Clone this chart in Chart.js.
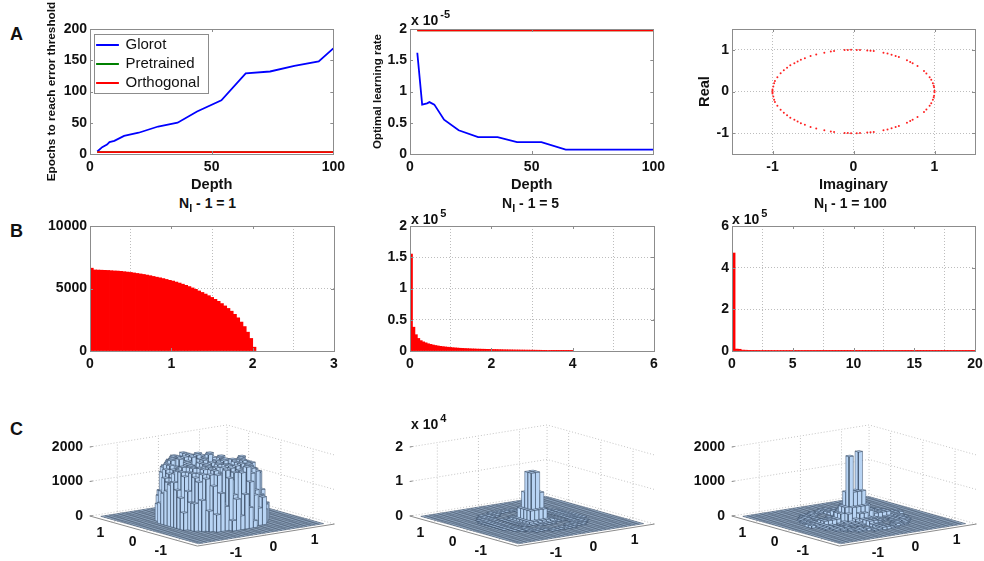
<!DOCTYPE html>
<html><head><meta charset="utf-8">
<script src="https://cdn.jsdelivr.net/npm/chart.js@4"></script>
<style>
html,body{margin:0;padding:0;background:#fff;width:984px;height:561px;overflow:hidden}
canvas{position:absolute}
.t{position:absolute;font-family:"Liberation Sans",Arial,sans-serif;color:#111;white-space:nowrap;line-height:1;font-weight:bold}
.t sup{font-size:11px;position:relative;top:-7px;vertical-align:baseline;margin-left:2px}
.t sub{font-size:11px;position:relative;top:4px;vertical-align:baseline}
</style></head><body>
<script>
// ---------- Row A ----------
const depth=[3,5,7,8,10,14,20,28,36,44,54,64,74,84,94,100];
const epochsGlorot=[4,11,15,19,21,29,34,44,50,68,86,129,132,141,148,169];
const epochsPretrained=[3,3,3,3,3,3,3,3,3,3,3,3,3,3,3,3];
const epochsOrthogonal=[3,3,3,3,3,3,3,3,3,3,3,3,3,3,3,3];
const lrGlorot=[1.62,.79,.81,.83,.79,.55,.38,.27,.27,.19,.19,.07,.07,.07,.07,.07];
const lrPretrained=[1.98,1.98,1.98,1.98,1.98,1.98,1.98,1.98,1.98,1.98,1.98,1.98,1.98,1.98,1.98,1.98];
const lrOrthogonal=[1.98,1.98,1.98,1.98,1.98,1.98,1.98,1.98,1.98,1.98,1.98,1.98,1.98,1.98,1.98,1.98];
const seriesNames=['Glorot','Pretrained','Orthogonal'];
const eigImag=[1,.995,.99,.98,.96,.94,.9,.87,.79,.73,.7,.66,.56,.52,.47,.42,.37,.25,.21,.17,.08,.04,-.03,-.07,-.11,-.24,-.28,-.36,-.46,-.53,-.6,-.65,-.69,-.73,-.78,-.82,-.86,-.9,-.94,-.97,-.98,-.99,-1,-1];
const eigReal=[.02,.1,.14,.2,.28,.34,.43,.49,.61,.68,.71,.75,.83,.85,.88,.91,.93,.97,.98,.985,.997,.999,1,.998,.994,.97,.96,.93,.89,.85,.8,.76,.72,.68,.63,.57,.51,.44,.34,.25,.2,.12,.05,.02];
// ---------- Row B ----------
const hist1Bins=[.02,.06,.1,.14,.18,.22,.26,.3,.34,.38,.42,.46,.5,.54,.58,.62,.66,.7,.74,.78,.82,.86,.9,.94,.98,1.02,1.06,1.1,1.14,1.18,1.22,1.26,1.3,1.34,1.38,1.42,1.46,1.5,1.54,1.58,1.62,1.66,1.7,1.74,1.78,1.82,1.86,1.9,1.94,1.98,2.02];
const hist1Counts=[6620,6480,6470,6460,6450,6440,6420,6400,6390,6370,6340,6310,6280,6240,6200,6160,6120,6070,6020,5960,5900,5850,5790,5720,5650,5590,5510,5430,5340,5250,5150,5040,4930,4800,4680,4550,4420,4280,4130,3970,3790,3600,3400,3180,2930,2650,2310,1950,1500,1000,300];
const hist2Bins=[.03,.09,.15,.21,.27,.33,.39,.45,.51,.57,.63,.69,.75,.81,.87,.93,.99,1.05,1.11,1.17,1.23,1.29,1.35,1.41,1.47,1.53,1.59,1.65,1.71,1.77,1.83,1.89,1.95,2.01,2.07,2.13,2.19,2.25,2.31,2.37,2.43,2.49,2.55,2.61,2.67,2.73,2.79,2.85,2.91,2.97,3.03,3.09,3.15,3.21,3.27,3.33,3.39,3.45,3.51,3.57,3.63,3.69,3.75,3.81,3.87,3.93,3.99];
const hist2Counts=[155000,38000,26000,20000,16500,14500,13000,11500,10500,9500,8700,8000,7400,6900,6400,6000,5600,5200,4900,4600,4300,4100,3900,3700,3500,3300,3200,3000,2900,2800,2700,2600,2500,2400,2300,2200,2100,2000,1900,1800,1750,1700,1600,1550,1500,1450,1400,1350,1300,1250,1200,1150,1100,1050,1000,950,800,700,600,550,500,450,400,350,300,250,200];
const hist3Bins=[.125,.375,.625,.875,1.125,1.375,1.625,1.875,2.125,2.375,2.625,2.875,3.125,3.375,3.625,3.875,4.125,4.375,4.625,4.875,5.125,5.375,5.625,5.875,6.125,6.375,6.625,6.875,7.125,7.375,7.625,7.875,8.125,8.375,8.625,8.875,9.125,9.375,9.625,9.875,10.125,10.375,10.625,10.875,11.125,11.375,11.625,11.875,12.125,12.375,12.625,12.875,13.125,13.375,13.625,13.875,14.125,14.375,14.625,14.875,15.125,15.375,15.625,15.875,16.125,16.375,16.625,16.875,17.125,17.375,17.625,17.875,18.125,18.375,18.625,18.875,19.125,19.375,19.625,19.875];
const hist3Counts=[470000,9000,8000,4000,3500,3000,3000,2800,2800,2500,2500,2500,2500,2400,2400,2400,2300,2300,2300,2300,2200,2200,2200,2200,2100,2100,2100,2100,2000,2000,2000,2000,2000,2000,2000,2000,2000,2000,2000,2000,2000,2000,2000,2000,2000,2000,2000,2000,2000,2000,2000,2000,2000,2000,2000,2000,2000,2000,2000,2000,2000,2000,2000,2000,2000,2000,2000,2000,2000,2000,2000,2000,2000,2000,2000,2000,2000,2000,2000,2000];
// ---------- Row C: bar heights, central 22 x 22 bins of a 30 x 30 histogram; each character indexes the panel's level table ----------
const levelsC1=[0,100,200,300,400,500,600,700,800,900,1000,1100,1200,1300,1400,1500,1600,1700];
const rowsC1=[
"0000000000000000000000",
"000000007fghg600000000",
"000006eghgfhggfd400000",
"00008fghhgfhghggc50000",
"0007fghgfhgghfghfd4000",
"005eghfhgghfgghgfge300",
"009fgfefgfefgfefgfe700",
"06defedfedefdefedefc50",
"09cdedcdedcdedcdedcd80",
"0acdcdecdcdecdcdecdca0",
"0cfgghgfhggfhghgfghd90",
"0dghghgghfhgghfhghgfa0",
"0bgfhggfhgghfggfhgge80",
"09fghgfhgghfgghfhggd60",
"05bgfhghggfhgfhggfc840",
"008fghgfhgghfghggfe600",
"008egfhgfhgfhgghfe9500",
"0009fghggfhegfhgf85000",
"00006dg8hegb7hfa840000",
"000005b7fa3g6d95800000",
"00000000394a6200000000",
"0000000000000000000000"];
const levelsC2=[0,60,150,350,700,1500,3500,8000,14000];
const rowsC2=[
"0000000000000000000000",
"0000000011211100000000",
"0000011211121121100000",
"0000112110000112110000",
"0001211100000011121000",
"0012110000000000112100",
"0012110001111000112100",
"0121101111111111011210",
"0121101244444421011210",
"0121101246777421011210",
"0121101246887421011210",
"0121101246887421011210",
"0121101246666421011210",
"0121101244444421011210",
"0121101122222211011210",
"0012110001111000112100",
"0012110000000000112100",
"0001211100000011121000",
"0000112110000112110000",
"0000011211121121100000",
"0000000011211100000000",
"0000000000000000000000"];
const levelsC3=[0,30,70,140,280,450,850,1900,1950];
const rowsC3=[
"0000000000000000000000",
"0000000011221100000000",
"0000011211221121100000",
"0000112100220012110000",
"0001211000220001121000",
"0012110000330000112100",
"0012110011331100112100",
"0121101112332111011210",
"0121101123443211011210",
"0121101245555421011210",
"2223333456668543333222",
"2223333457666543333222",
"0121101245555421011210",
"0121101123443211011210",
"0121101112332111011210",
"0012110011331100112100",
"0012110000330000112100",
"0001211000220001121000",
"0000112100220012110000",
"0000011211221121100000",
"0000000011221100000000",
"0000000000000000000000"];
const floorTicks=[-1,0,1];

const FONT='"Liberation Sans",Arial,sans-serif';
const tickFont={family:FONT,size:14,weight:'bold'};
const INK='#111', AXIS='#8c8c8c';
Chart.defaults.animation=false;
Chart.defaults.devicePixelRatio=1;
Chart.defaults.responsive=false;
Chart.defaults.events=[];
Chart.defaults.plugins.tooltip.enabled=false;

const framePlugin={id:'frame',afterDatasetsDraw(ch){
  const a=ch.chartArea,c=ch.ctx;c.save();c.strokeStyle=AXIS;c.lineWidth=1;
  c.strokeRect(Math.round(a.left)+.5,Math.round(a.top)+.5,Math.round(a.width),Math.round(a.height));
  c.beginPath();
  ch.scales.x.ticks.forEach(t=>{const p=Math.round(ch.scales.x.getPixelForValue(t.value))+.5;
    c.moveTo(p,a.bottom);c.lineTo(p,a.bottom-3);c.moveTo(p,a.top);c.lineTo(p,a.top+3);});
  ch.scales.y.ticks.forEach(t=>{const p=Math.round(ch.scales.y.getPixelForValue(t.value))+.5;
    c.moveTo(a.left,p);c.lineTo(a.left+3,p);c.moveTo(a.right,p);c.lineTo(a.right-3,p);});
  c.stroke();c.restore();}};

function panel(cfg){
  const [x0,y0,x1,y1]=cfg.plot,L=cfg.L||60,B=cfg.B||24,T=cfg.T||14,R=16;
  const cv=document.createElement('canvas');
  cv.width=L+(x1-x0)+R;cv.height=T+(y1-y0)+B;
  cv.style.left=(x0-L)+'px';cv.style.top=(y0-T)+'px';
  document.body.appendChild(cv);
  const grid=cfg.grid?{display:true,color:'#bdbdbd',lineWidth:1,drawTicks:false}:{display:false,drawTicks:false};
  const fix=v=>v?s=>{s.ticks=v.map(value=>({value}));}:undefined;
  const scale=(isX,ax,title,vals,fit,cb)=>({type:'linear',offset:false,min:ax[0],max:ax[1],afterBuildTicks:fix(vals),afterFit:fit,
    grid,border:{display:false,dash:[1,2]},
    title:title?{display:true,text:title,color:INK,padding:0,font:{family:FONT,weight:'bold',size:isX?14.6:(cfg.yts||14.6)}}:{display:false},
    ticks:{color:INK,font:tickFont,padding:isX?5:3,autoSkip:false,maxRotation:0,minRotation:0,callback:cb||(v=>String(v))}});
  return new Chart(cv,{type:cfg.type||'scatter',data:{datasets:cfg.datasets},plugins:[framePlugin].concat(cfg.plugins||[]),
    options:{layout:{padding:{top:T,right:R,left:0,bottom:0}},elements:{point:{radius:0}},
      plugins:{legend:cfg.legend||{display:false}},
      scales:{x:scale(true,cfg.xr,cfg.xt,cfg.xv,s=>{s.height=B;}),y:scale(false,cfg.yr,cfg.yt,cfg.yv,s=>{s.width=L;},cfg.yCb)}}});
}
const xy=(xs,ys)=>xs.map((x,i)=>({x,y:ys[i]}));
const lineDs=(label,xs,ys,color,order)=>({label,data:xy(xs,ys),showLine:true,borderColor:color,backgroundColor:color,borderWidth:1.8,order,fill:false});
const colors=['#0000ff','#008000','#ff0000'];
const rowTop=28.7,rowBot=154.3,bTop=225.7,bBot=351.3;
const cols=[[89.5,333.7],[410,654.3],[731.7,975.3]];

const legendFrame={id:'legendFrame',beforeDraw(ch){
  const c=ch.ctx,a=ch.chartArea;c.save();c.fillStyle='#fff';c.strokeStyle=AXIS;
  c.fillRect(a.left+4,a.top+5,114,59);c.strokeRect(Math.round(a.left+4)+.5,Math.round(a.top+5)+.5,114,59);c.restore();
  ch.legend.left=a.left+3;ch.legend.top=a.top+4.5;}};
panel({plot:[cols[0][0],rowTop,cols[0][1],rowBot],L:45,B:40,T:28,xr:[0,100],yr:[0,200],xv:[0,50,100],yv:[0,50,100,150,200],
  xt:'Depth',yt:'Epochs to reach error threshold',yts:11.8,
  plugins:[legendFrame],
  legend:{display:true,position:'chartArea',align:'start',labels:{boxWidth:21,boxHeight:0.2,padding:4,color:INK,font:{family:FONT,size:15,weight:'normal'},sort:(a,b)=>a.datasetIndex-b.datasetIndex}},
  datasets:[lineDs(seriesNames[0],depth,epochsGlorot,colors[0],2),lineDs(seriesNames[1],depth,epochsPretrained,colors[1],1),lineDs(seriesNames[2],depth,epochsOrthogonal,colors[2],0)]});
panel({plot:[cols[1][0],rowTop,cols[1][1],rowBot],L:39,B:40,xr:[0,100],yr:[0,2],xv:[0,50,100],yv:[0,.5,1,1.5,2],
  xt:'Depth',yt:'Optimal learning rate',yts:11.5,
  datasets:[lineDs(seriesNames[0],depth,lrGlorot,colors[0],2),lineDs(seriesNames[1],depth,lrPretrained,colors[1],1),lineDs(seriesNames[2],depth,lrOrthogonal,colors[2],0)]});
panel({plot:[cols[2][0],rowTop,cols[2][1],rowBot],L:36,B:40,grid:true,xr:[-1.5,1.5],yr:[-1.5,1.5],xv:[-1,0,1],yv:[-1,0,1],
  xt:'Imaginary',yt:'Real',
  datasets:[{label:'eigenvalues',data:xy(eigImag,eigReal).concat(xy(eigImag,eigReal.map(v=>-v))),pointRadius:1,pointBackgroundColor:'#ff2020',pointBorderWidth:0,showLine:false}]});

const histDs=(xs,ys)=>({label:'count',data:xy(xs,ys),backgroundColor:'#ff0000',borderWidth:0,barPercentage:1,categoryPercentage:1,grouped:false,inflateAmount:.4});
const barPanel=(col,xr,yr,xv,yv,xs,ys,yCb)=>panel({plot:[cols[col][0],bTop,cols[col][1],bBot],type:'bar',grid:true,xr,yr,xv,yv,yCb,datasets:[histDs(xs,ys)]});
barPanel(0,[0,3],[0,10000],[0,1,2,3],[0,5000,10000],hist1Bins,hist1Counts);
barPanel(1,[0,6],[0,200000],[0,2,4,6],[0,50000,100000,150000,200000],hist2Bins,hist2Counts,v=>String(v/100000));
barPanel(2,[0,20],[0,600000],[0,5,10,15,20],[0,200000,400000,600000],hist3Bins,hist3Counts,v=>String(v/100000));

// ---------- 3-D panels: projected through the chart's own x / y scales ----------
function bars3d(col,zMax,zTicks,rows,levels,zLabel){
  const k=69/zMax, HALF=1.67, BIN=.1013, OFF=4, NB=22, HB=15;
  const hx=(a,b)=>122.2+a*41.1-b*32.2;
  const P=(a,b,z)=>({x:hx(a,b),y:(z||0)+(6.6*a+9*b-4.3)/k});
  const gap={x:NaN,y:NaN};
  const far=[];
  const lineSet=(pts,color,width,dash)=>({data:pts,showLine:true,borderColor:color,borderWidth:width,borderDash:dash||[],fill:false,clip:false});
  const wall=[];
  const zs=zTicks;
  zs.forEach(z=>{wall.push(P(-HALF,HALF,z),P(HALF,HALF,z),P(HALF,-HALF,z),gap);});
  floorTicks.forEach(t=>{wall.push(P(t,HALF,0),P(t,HALF,zMax),gap,P(HALF,t,0),P(HALF,t,zMax),gap,P(t,HALF,0),P(t,-HALF,0),gap,P(-HALF,t,0),P(HALF,t,0),gap);});
  wall.push(P(HALF,HALF,0),P(HALF,HALF,zMax),gap);
  far.push(lineSet(wall,'#c4c4c4',1,[1,2]));
  const axes=[P(-HALF,HALF,zMax),P(-HALF,HALF,0),P(-HALF,-HALF,0),P(HALF,-HALF,0)];
  far.push(lineSet(axes,AXIS,1));
  const E=HB*BIN, f=[P(-E,E),P(E,E),P(E,-E),P(-E,-E),P(-E,E)];
  far.push({data:f,showLine:true,fill:'shape',backgroundColor:'#b5cfea',borderWidth:0,clip:false});
  const mesh=[];
  for(let i=0;i<=2*HB;i++){const v=-E+i*BIN;mesh.push(P(v,-E),P(v,E),gap,P(-E,v),P(E,v),gap);}
  far.push(lineSet(mesh,'#4d5d72',.65));
  const h=(r,c)=>(rows[r]&&c>=0&&c<NB)?levels[parseInt(rows[r][c]||'0',36)]||0:0;
  const poly=pts=>({data:pts.concat([pts[0]]),showLine:true,fill:'shape',backgroundColor:'#b8d4f4',borderColor:'#3f5068',borderWidth:.5,clip:false});
  for(let r=0;r<NB;r++)for(let c=NB-1;c>=0;c--){
    const z=h(r,c);if(!z)continue;
    const a0=(c+OFF-HB)*BIN,a1=a0+BIN,b1=(HB-(r+OFF))*BIN,b0=b1-BIN;
    if(h(r,c-1)<z)far.push(poly([P(a0,b0,0),P(a0,b1,0),P(a0,b1,z),P(a0,b0,z)]));
    if(h(r+1,c)<z)far.push(poly([P(a0,b0,0),P(a1,b0,0),P(a1,b0,z),P(a0,b0,z)]));
    far.push(poly([P(a0,b0,z),P(a1,b0,z),P(a1,b1,z),P(a0,b1,z)]));
  }
  const labels3d={id:'labels3d',afterDraw(ch){
    const c=ch.ctx,X=ch.scales.x,Y=ch.scales.y;c.save();c.fillStyle=INK;c.textAlign='center';c.textBaseline='middle';c.font='bold 14px '+FONT;
    floorTicks.forEach(t=>{let p=P(-HALF,t,0);c.fillText(String(t),X.getPixelForValue(p.x)-(t<0?15:11),Y.getPixelForValue(p.y)+11.5);
      p=P(t,-HALF,0);c.fillText(String(t),X.getPixelForValue(p.x)+(t<0?11:7.5),Y.getPixelForValue(p.y)+12);});
    c.strokeStyle=AXIS;c.beginPath();zs.forEach(z=>{const p=Y.getPixelForValue(P(-HALF,HALF,z).y);const q=X.getPixelForValue(P(-HALF,HALF,0).x);c.moveTo(q,p);c.lineTo(q+3,p-.5);});c.stroke();
    c.restore();}};
  const x0=cols[col][0],L=60,top=400,bottom=561;
  const cv=document.createElement('canvas');cv.width=L+244.4+16;cv.height=bottom-top;
  cv.style.left=(x0-L)+'px';cv.style.top=top+'px';document.body.appendChild(cv);
  const zPix=515.7-top;
  const ch=new Chart(cv,{type:'scatter',data:{datasets:far.reverse()},plugins:[labels3d],
    options:{layout:{padding:{top:4,bottom:2,right:16,left:0}},elements:{point:{radius:0},line:{tension:0}},plugins:{legend:{display:false}},
      scales:{x:{type:'linear',display:false,min:0,max:244.4},
        y:{type:'linear',min:0,max:zMax,afterBuildTicks:s=>{s.ticks=zs.map(value=>({value}));},afterFit:s=>{s.width=L;},
          grid:{display:false,drawTicks:false},border:{display:false},
          ticks:{color:INK,font:tickFont,padding:7,autoSkip:false,callback:zLabel||(v=>String(v))}}}}});
  const a=ch.chartArea;
  ch.options.scales.y.min=-(a.bottom-zPix)/k;
  ch.options.scales.y.max=(zPix-a.top)/k;
  ch.options.scales.x.min=0;ch.options.scales.x.max=a.right-a.left;
  ch.update();
  return ch;
}
bars3d(0,2000,[0,1000,2000],rowsC1,levelsC1);
bars3d(1,20000,[0,10000,20000],rowsC2,levelsC2,v=>String(v/10000));
bars3d(2,2000,[0,1000,2000],rowsC3,levelsC3);

// ---------- annotations ----------
function note(html,x,y,size){const d=document.createElement('div');d.className='t';d.innerHTML=html;d.style.left=x+'px';d.style.top=y+'px';d.style.fontSize=size+'px';document.body.appendChild(d);}
note('A',10,25,18);note('B',10,222,18);note('C',10,420,18);
note('x 10<sup>-5</sup>',411,13,14);
note('x 10<sup>5</sup>',411,212,14);
note('x 10<sup>5</sup>',732,212,14);
note('x 10<sup>4</sup>',411,417,14);
[[179,'1'],[502,'5'],[814,'100']].forEach(([x,v])=>note('N<sub>l</sub> - 1 = '+v,x,196,14));
</script>
</body></html>
